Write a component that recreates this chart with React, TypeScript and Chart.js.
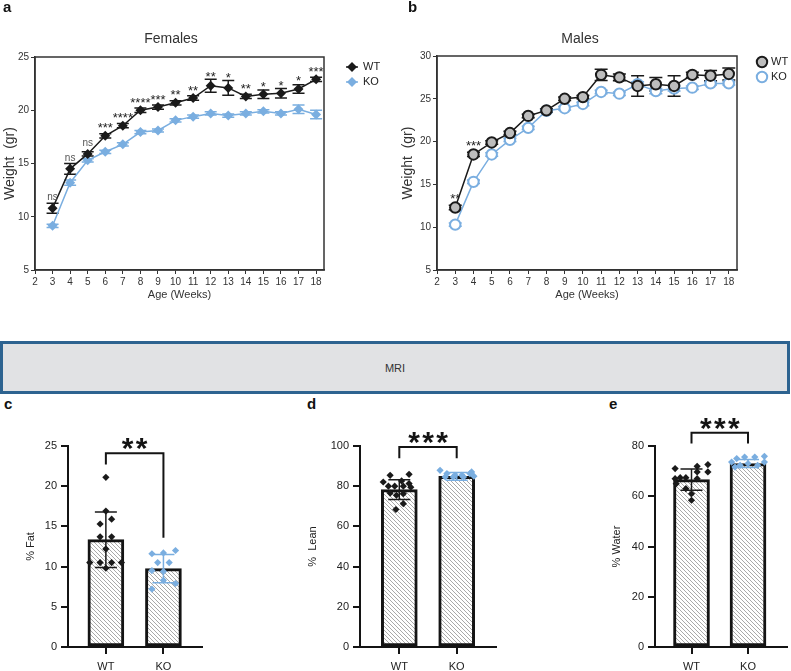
import React, { useEffect, useRef } from "react";
import { Chart, registerables } from "chart.js";

Chart.register(...registerables);

const FONT = "'Liberation Sans', Arial, Helvetica, sans-serif";
const TEXT = "#333333";
const DARK = "#141414";
const WT_COLOR = "#1a1a1a";
const KO_COLOR = "#7aaee0";
const WT_MALE_FILL = "#bdbdbd";

// ---------- Panels a / b : body weight ----------
const WEEKS = [3, 4, 5, 6, 7, 8, 9, 10, 11, 12, 13, 14, 15, 16, 17, 18];
const AGE_TICKS = [2, 3, 4, 5, 6, 7, 8, 9, 10, 11, 12, 13, 14, 15, 16, 17, 18];

const FEMALE_Y_TICKS = [5, 10, 15, 20, 25];
const FEMALE_WT = [10.8, 14.5, 15.9, 17.6, 18.55, 20.0, 20.3, 20.7, 21.15, 22.3, 22.1, 21.3, 21.5, 21.6, 22.0, 22.9];
const FEMALE_WT_SEM = [0.47, 0.5, 0.2, 0.2, 0.2, 0.2, 0.2, 0.2, 0.2, 0.6, 0.7, 0.2, 0.4, 0.45, 0.4, 0.2];
const FEMALE_KO = [9.15, 13.2, 15.3, 16.1, 16.8, 17.95, 18.1, 19.05, 19.4, 19.7, 19.5, 19.7, 19.9, 19.7, 20.1, 19.6];
const FEMALE_KO_SEM = [0.15, 0.25, 0.15, 0.15, 0.15, 0.15, 0.15, 0.15, 0.15, 0.15, 0.15, 0.15, 0.15, 0.15, 0.4, 0.4];
const FEMALE_SIG = ["ns", "ns", "ns", "***", "****", "****", "***", "**", "**", "**", "*", "**", "*", "*", "*", "***"];

const MALE_Y_TICKS = [5, 10, 15, 20, 25, 30];
const MALE_WT = [12.3, 18.5, 19.9, 21.0, 23.0, 23.65, 25.0, 25.2, 27.8, 27.5, 26.5, 26.7, 26.5, 27.8, 27.7, 27.9];
const MALE_WT_SEM = [0.25, 0.25, 0.2, 0.2, 0.2, 0.2, 0.2, 0.2, 0.65, 0.4, 1.2, 0.8, 1.2, 0.3, 0.6, 0.7];
const MALE_KO = [10.3, 15.3, 18.5, 20.2, 21.6, 23.6, 23.9, 24.4, 25.8, 25.6, 26.7, 25.9, 26.2, 26.3, 26.8, 26.8];
const MALE_KO_SEM = [0.2, 0.2, 0.2, 0.2, 0.2, 0.2, 0.2, 0.2, 0.2, 0.2, 0.3, 0.3, 0.3, 0.2, 0.2, 0.2];
const MALE_SIG = ["**", "***", "", "", "", "", "", "", "", "", "", "", "", "", "", ""];

// ---------- Panels c / d / e : MRI ----------
const GROUPS = ["WT", "KO"];

const FAT_TICKS = [0, 5, 10, 15, 20, 25];
const FAT_MEAN = [13.35, 9.75];
const FAT_SD = [3.45, 1.75];
const FAT_WT = [21.1, 16.9, 15.9, 15.3, 13.7, 13.7, 12.2, 10.5, 10.5, 10.5, 10.5, 9.8];
const FAT_WT_JITTER = [0, 0, 0.1, -0.1, -0.1, 0.1, 0, -0.28, -0.1, 0.1, 0.27, 0];
const FAT_KO = [12.0, 11.7, 11.6, 10.5, 10.5, 9.5, 9.4, 8.3, 7.9, 7.2];
const FAT_KO_JITTER = [0.21, 0, -0.2, -0.1, 0.1, -0.2, 0, 0, 0.21, -0.2];
const FAT_SIG = "**";
const FAT_BRACKET = [22.7, 24.1, 13.6]; // left leg end, top, right leg end

const LEAN_TICKS = [0, 20, 40, 60, 80, 100];
const LEAN_MEAN = [78.3, 84.9];
const LEAN_SD = [4.9, 1.95];
const LEAN_WT = [85.4, 85.9, 82.6, 82.1, 81.3, 80.0, 80.0, 80.0, 79.5, 76.6, 76.3, 75.5, 71.3, 68.4];
const LEAN_WT_JITTER = [-0.16, 0.17, 0.04, -0.28, 0.17, -0.19, -0.08, 0.07, 0.2, -0.16, 0.07, -0.05, 0.07, -0.06];
const LEAN_KO = [87.9, 86.3, 85.4, 85.4, 86.3, 87.1, 84.6, 84.6, 84.6, 85.0];
const LEAN_KO_JITTER = [-0.29, -0.17, -0.03, 0.09, 0.23, 0.26, -0.2, -0.06, 0.12, 0.3];
const LEAN_SIG = "***";
const LEAN_BRACKET = [93.9, 99.5, 93.9];

const WATER_TICKS = [0, 20, 40, 60, 80];
const WATER_MEAN = [66.6, 73.0];
const WATER_SD = [4.2, 1.6];
const WATER_WT = [72.6, 71.9, 71.0, 69.7, 69.7, 67.4, 67.4, 67.0, 67.0, 65.0, 63.0, 61.0, 58.4];
const WATER_WT_JITTER = [0.29, 0.1, -0.29, 0.1, 0.29, -0.1, -0.2, -0.29, 0.1, -0.27, -0.1, 0, 0];
const WATER_KO = [75.9, 75.6, 75.6, 75.0, 73.6, 73.6, 73.0, 72.3, 72.3, 71.6];
const WATER_KO_JITTER = [0.29, -0.06, 0.12, -0.2, 0.29, -0.29, 0, -0.14, 0.17, -0.23];
const WATER_SIG = "***";
const WATER_BRACKET = [80.95, 85.3, 80.95];

type Area = { l: number; r: number; t: number; b: number };

function textCenterBaseline(ctx: CanvasRenderingContext2D, text: string, centerY: number) {
  const m = ctx.measureText(text);
  return centerY - (m.actualBoundingBoxDescent - m.actualBoundingBoxAscent) / 2;
}

type WeightProps = {
  left: number;
  top: number;
  width: number;
  height: number;
  area: Area;
  yMin: number;
  yMax: number;
  yTicks: number[];
  wt: number[];
  wtSem: number[];
  ko: number[];
  koSem: number[];
  sig: string[];
  title: string;
  titleX: number;
  male: boolean;
  yTitlePad: number;
  legendX: number;
  legendY: number;
  labelX: number;
};

function WeightPanel(p: WeightProps) {
  const ref = useRef<HTMLCanvasElement>(null);
  useEffect(() => {
    const canvas = ref.current!;
    const markerR = p.male ? 6.2 : 5;
    const cap = p.male ? 6.5 : 6;

    const drawMarker = (ctx: CanvasRenderingContext2D, x: number, y: number, which: "WT" | "KO") => {
      ctx.save();
      if (p.male) {
        ctx.beginPath();
        ctx.arc(x, y, 5.2, 0, Math.PI * 2);
        ctx.fillStyle = which === "WT" ? WT_MALE_FILL : "#ffffff";
        ctx.fill();
        ctx.lineWidth = 2;
        ctx.strokeStyle = which === "WT" ? WT_COLOR : KO_COLOR;
        ctx.stroke();
      } else {
        ctx.beginPath();
        ctx.moveTo(x, y - 5);
        ctx.lineTo(x + 5, y);
        ctx.lineTo(x, y + 5);
        ctx.lineTo(x - 5, y);
        ctx.closePath();
        ctx.fillStyle = which === "WT" ? WT_COLOR : KO_COLOR;
        ctx.fill();
      }
      ctx.restore();
    };

    const overlay = {
      id: "weightOverlay",
      beforeDatasetsDraw(chart: any) {
        const { ctx } = chart;
        const x = chart.scales.x;
        const y = chart.scales.y;
        const draw = (vals: number[], sems: number[], color: string) => {
          ctx.save();
          ctx.strokeStyle = color;
          ctx.lineWidth = 1.5;
          WEEKS.forEach((w, i) => {
            const px = x.getPixelForValue(w);
            const t = y.getPixelForValue(vals[i] + sems[i]);
            const b = y.getPixelForValue(vals[i] - sems[i]);
            ctx.beginPath();
            ctx.moveTo(px, t);
            ctx.lineTo(px, b);
            ctx.moveTo(px - cap, t);
            ctx.lineTo(px + cap, t);
            ctx.moveTo(px - cap, b);
            ctx.lineTo(px + cap, b);
            ctx.stroke();
          });
          ctx.restore();
        };
        draw(p.ko, p.koSem, KO_COLOR);
        draw(p.wt, p.wtSem, WT_COLOR);
      },
      afterDraw(chart: any) {
        const { ctx, chartArea: ca } = chart;
        const x = chart.scales.x;
        const y = chart.scales.y;
        ctx.save();
        // frame
        ctx.strokeStyle = TEXT;
        ctx.lineWidth = 1.5;
        ctx.strokeRect(ca.left, ca.top, ca.right - ca.left, ca.bottom - ca.top);
        // title
        ctx.fillStyle = TEXT;
        ctx.font = `14px ${FONT}`;
        ctx.textAlign = "center";
        ctx.textBaseline = "middle";
        ctx.fillText(p.title, p.titleX, 39);
        // significance
        ctx.textBaseline = "alphabetic";
        p.sig.forEach((s, i) => {
          if (!s) return;
          const px = x.getPixelForValue(WEEKS[i]);
          const top = Math.min(
            y.getPixelForValue(p.wt[i] + p.wtSem[i]),
            y.getPixelForValue(p.wt[i]) - markerR
          );
          const isNs = s === "ns";
          ctx.font = isNs ? `10px ${FONT}` : `13px ${FONT}`;
          ctx.fillStyle = isNs ? "#555555" : "#222222";
          const base = textCenterBaseline(ctx, s, top - (isNs ? 6 : 5));
          ctx.fillText(s, px, base);
        });
        // legend
        const items: ["WT" | "KO", string][] = [
          ["WT", WT_COLOR],
          ["KO", KO_COLOR],
        ];
        items.forEach(([name, color], k) => {
          const ly = p.legendY + k * 15;
          if (!p.male) {
            ctx.strokeStyle = color;
            ctx.lineWidth = 1.5;
            ctx.beginPath();
            ctx.moveTo(p.legendX - 6, ly);
            ctx.lineTo(p.legendX + 6, ly);
            ctx.stroke();
          }
          drawMarker(ctx, p.legendX, ly, name);
          ctx.fillStyle = "#222222";
          ctx.font = `11px ${FONT}`;
          ctx.textAlign = "left";
          ctx.textBaseline = "middle";
          ctx.fillText(name, p.labelX, ly);
        });
        ctx.restore();
      },
    };

    const mkData = (vals: number[]) => WEEKS.map((w, i) => ({ x: w, y: vals[i] }));
    const tickFont = { family: FONT, size: 10 };

    const chart = new Chart(canvas, {
      type: "line",
      data: {
        datasets: [
          {
            label: "WT",
            data: mkData(p.wt),
            borderColor: WT_COLOR,
            borderWidth: 1.5,
            pointStyle: p.male ? "circle" : "rectRot",
            pointRadius: p.male ? 5.2 : 5,
            pointBackgroundColor: p.male ? WT_MALE_FILL : WT_COLOR,
            pointBorderColor: WT_COLOR,
            pointBorderWidth: p.male ? 2 : 0,
            tension: 0,
            fill: false,
          },
          {
            label: "KO",
            data: mkData(p.ko),
            borderColor: KO_COLOR,
            borderWidth: 1.5,
            pointStyle: p.male ? "circle" : "rectRot",
            pointRadius: p.male ? 5.2 : 5,
            pointBackgroundColor: p.male ? "#ffffff" : KO_COLOR,
            pointBorderColor: KO_COLOR,
            pointBorderWidth: p.male ? 2 : 0,
            tension: 0,
            fill: false,
          },
        ],
      },
      options: {
        animation: false,
        responsive: false,
        events: [],
        layout: { padding: { left: 0, top: p.area.t, right: p.width - p.area.r, bottom: 0 } },
        plugins: { legend: { display: false }, tooltip: { enabled: false }, title: { display: false } },
        scales: {
          x: {
            type: "linear",
            min: 2,
            max: 18.45,
            afterBuildTicks: (s: any) => {
              s.ticks = AGE_TICKS.map((v) => ({ value: v }));
            },
            afterFit: (s: any) => {
              s.height = p.height - p.area.b;
            },
            ticks: { font: tickFont, color: TEXT, padding: 2, autoSkip: false, maxRotation: 0 },
            grid: { drawOnChartArea: false, tickLength: 4, color: TEXT, lineWidth: 1 },
            border: { color: TEXT, width: 1.5 },
            title: {
              display: true,
              text: "Age (Weeks)",
              color: TEXT,
              font: { family: FONT, size: 11 },
              padding: { top: 0, bottom: 8.4 },
            },
          },
          y: {
            type: "linear",
            min: p.yMin,
            max: p.yMax,
            afterBuildTicks: (s: any) => {
              s.ticks = p.yTicks.map((v) => ({ value: v }));
            },
            afterFit: (s: any) => {
              s.width = p.area.l;
            },
            ticks: { font: tickFont, color: TEXT, padding: 2 },
            grid: { drawOnChartArea: false, tickLength: 4, color: TEXT, lineWidth: 1 },
            border: { color: TEXT, width: 1.5 },
            title: {
              display: true,
              text: "Weight  (gr)",
              color: TEXT,
              font: { family: FONT, size: 14 },
              padding: { top: p.yTitlePad, bottom: 0 },
            },
          },
        },
      },
      plugins: [overlay],
    } as any);
    return () => chart.destroy();
  }, []);
  return (
    <canvas
      ref={ref}
      width={p.width}
      height={p.height}
      style={{ position: "absolute", left: p.left, top: p.top, width: p.width, height: p.height }}
    />
  );
}

type BarProps = {
  left: number;
  top: number;
  width: number;
  height: number;
  area: Area;
  xMin: number;
  xMax: number;
  yMax: number;
  yTicks: number[];
  yTitle: string;
  yTitlePad: number;
  mean: number[];
  sd: number[];
  wt: number[];
  wtJit: number[];
  ko: number[];
  koJit: number[];
  sig: string;
  bracket: number[];
};

function makeHatch(): CanvasPattern | string {
  const s = 4;
  const c = document.createElement("canvas");
  c.width = s;
  c.height = s;
  const g = c.getContext("2d");
  if (!g) return "#dddddd";
  g.fillStyle = "#ffffff";
  g.fillRect(0, 0, s, s);
  g.strokeStyle = "#9a9a9a";
  g.lineWidth = 0.85;
  g.beginPath();
  g.moveTo(0, 0);
  g.lineTo(s, s);
  g.moveTo(-1, s - 1);
  g.lineTo(1, s + 1);
  g.moveTo(s - 1, -1);
  g.lineTo(s + 1, 1);
  g.stroke();
  return g.createPattern(c, "repeat") || "#dddddd";
}

function BarPanel(p: BarProps) {
  const ref = useRef<HTMLCanvasElement>(null);
  useEffect(() => {
    const canvas = ref.current!;
    const pattern = makeHatch();
    const overlay = {
      id: "barOverlay",
      afterDatasetDraw(chart: any, args: any) {
        if (args.index !== 0) return;
        const { ctx } = chart;
        const x = chart.scales.x;
        const y = chart.scales.y;
        ctx.save();
        ctx.lineWidth = 1.5;
        [0, 1].forEach((g) => {
          ctx.strokeStyle = g === 0 ? WT_COLOR : KO_COLOR;
          const px = x.getPixelForValue(g);
          const t = y.getPixelForValue(p.mean[g] + p.sd[g]);
          const b = y.getPixelForValue(p.mean[g] - p.sd[g]);
          const cap = 11;
          ctx.beginPath();
          ctx.moveTo(px, t);
          ctx.lineTo(px, b);
          ctx.moveTo(px - cap, t);
          ctx.lineTo(px + cap, t);
          ctx.moveTo(px - cap, b);
          ctx.lineTo(px + cap, b);
          ctx.stroke();
        });
        ctx.restore();
      },
      afterDraw(chart: any) {
        const { ctx } = chart;
        const x = chart.scales.x;
        const y = chart.scales.y;
        const x0 = x.getPixelForValue(0);
        const x1 = x.getPixelForValue(1);
        const yl = y.getPixelForValue(p.bracket[0]);
        const yt = y.getPixelForValue(p.bracket[1]);
        const yr = y.getPixelForValue(p.bracket[2]);
        ctx.save();
        ctx.strokeStyle = DARK;
        ctx.lineWidth = 2;
        ctx.beginPath();
        ctx.moveTo(x0, yl);
        ctx.lineTo(x0, yt);
        ctx.lineTo(x1, yt);
        ctx.lineTo(x1, yr);
        ctx.stroke();
        // stars
        ctx.fillStyle = DARK;
        ctx.font = `bold 30px ${FONT}`;
        (ctx as any).letterSpacing = "0px";
        const w1 = ctx.measureText("*").width;
        const gap = Math.max(0, 14 - w1);
        (ctx as any).letterSpacing = `${gap}px`;
        const n = p.sig.length;
        const total = n * w1 + (n - 1) * gap;
        const base = textCenterBaseline(ctx, "*", yt - 9);
        ctx.textAlign = "left";
        ctx.textBaseline = "alphabetic";
        ctx.fillText(p.sig, (x0 + x1) / 2 - total / 2, base);
        ctx.restore();
      },
    };

    const tickFont = { family: FONT, size: 11 };
    const chart = new Chart(canvas, {
      type: "bar",
      data: {
        datasets: [
          {
            type: "bar",
            data: [
              { x: 0, y: p.mean[0] },
              { x: 1, y: p.mean[1] },
            ],
            backgroundColor: pattern,
            borderColor: DARK,
            borderWidth: 3,
            borderSkipped: false,
            barThickness: 36,
            order: 2,
          },
          {
            type: "scatter",
            data: p.wt.map((v, i) => ({ x: p.wtJit[i], y: v })),
            pointStyle: "rectRot",
            pointRadius: 3.6,
            backgroundColor: WT_COLOR,
            borderWidth: 0,
            order: 1,
          },
          {
            type: "scatter",
            data: p.ko.map((v, i) => ({ x: 1 + p.koJit[i], y: v })),
            pointStyle: "rectRot",
            pointRadius: 3.6,
            backgroundColor: KO_COLOR,
            borderWidth: 0,
            order: 0,
          },
        ],
      },
      options: {
        animation: false,
        responsive: false,
        events: [],
        layout: { padding: { left: 0, top: p.area.t, right: p.width - p.area.r, bottom: 0 } },
        plugins: { legend: { display: false }, tooltip: { enabled: false }, title: { display: false } },
        scales: {
          x: {
            type: "linear",
            min: p.xMin,
            max: p.xMax,
            offset: false,
            afterBuildTicks: (s: any) => {
              s.ticks = [{ value: 0 }, { value: 1 }];
            },
            afterFit: (s: any) => {
              s.height = p.height - p.area.b;
            },
            ticks: {
              font: { family: FONT, size: 11 },
              color: "#222222",
              padding: 6,
              autoSkip: false,
              maxRotation: 0,
              callback: (v: any) => GROUPS[Math.round(Number(v))],
            },
            grid: { drawOnChartArea: false, offset: false, tickLength: 7, color: DARK, lineWidth: 2 },
            border: { color: DARK, width: 2 },
          },
          y: {
            type: "linear",
            min: 0,
            max: p.yMax,
            afterBuildTicks: (s: any) => {
              s.ticks = p.yTicks.map((v) => ({ value: v }));
            },
            afterFit: (s: any) => {
              s.width = p.area.l;
            },
            ticks: { font: tickFont, color: "#222222", padding: 4 },
            grid: { drawOnChartArea: false, tickLength: 7, color: DARK, lineWidth: 2 },
            border: { color: DARK, width: 2 },
            title: {
              display: true,
              text: p.yTitle,
              color: "#222222",
              font: { family: FONT, size: 11 },
              padding: { top: p.yTitlePad, bottom: 0 },
            },
          },
        },
      },
      plugins: [overlay],
    } as any);
    return () => chart.destroy();
  }, []);
  return (
    <canvas
      ref={ref}
      width={p.width}
      height={p.height}
      style={{ position: "absolute", left: p.left, top: p.top, width: p.width, height: p.height }}
    />
  );
}

const labelStyle = (left: number, top: number): React.CSSProperties => ({
  position: "absolute",
  left,
  top,
  fontFamily: FONT,
  fontWeight: "bold",
  fontSize: 15,
  lineHeight: "15px",
  color: "#111",
});

export default function App() {
  return (
    <div
      style={{
        position: "absolute",
        left: 0,
        top: 0,
        width: 791,
        height: 671,
        background: "#ffffff",
        overflow: "hidden",
        fontFamily: FONT,
      }}
    >
      <WeightPanel
        left={0}
        top={0}
        width={395}
        height={310}
        area={{ l: 35, r: 324, t: 57, b: 270 }}
        yMin={5}
        yMax={25}
        yTicks={FEMALE_Y_TICKS}
        wt={FEMALE_WT}
        wtSem={FEMALE_WT_SEM}
        ko={FEMALE_KO}
        koSem={FEMALE_KO_SEM}
        sig={FEMALE_SIG}
        title="Females"
        titleX={171}
        male={false}
        yTitlePad={1.6}
        legendX={352}
        legendY={67}
        labelX={363}
      />
      <WeightPanel
        left={395}
        top={0}
        width={396}
        height={310}
        area={{ l: 42, r: 342, t: 56, b: 270 }}
        yMin={5}
        yMax={30}
        yTicks={MALE_Y_TICKS}
        wt={MALE_WT}
        wtSem={MALE_WT_SEM}
        ko={MALE_KO}
        koSem={MALE_KO_SEM}
        sig={MALE_SIG}
        title="Males"
        titleX={185}
        male={true}
        yTitlePad={4.3}
        legendX={367}
        legendY={62}
        labelX={376}
      />
      <div style={labelStyle(3, -1)}>a</div>
      <div style={labelStyle(408, -1)}>b</div>

      <div
        style={{
          position: "absolute",
          left: 0,
          top: 341,
          width: 790,
          height: 53,
          boxSizing: "border-box",
          border: "3px solid #2d6390",
          background: "#e1e2e4",
          display: "flex",
          alignItems: "center",
          justifyContent: "center",
          fontFamily: FONT,
          fontSize: 11,
          color: "#333",
        }}
      >
        MRI
      </div>

      <div style={labelStyle(4, 396)}>c</div>
      <div style={labelStyle(307, 396)}>d</div>
      <div style={labelStyle(609, 396)}>e</div>

      <BarPanel
        left={0}
        top={400}
        width={270}
        height={271}
        area={{ l: 68, r: 202, t: 46, b: 247 }}
        xMin={-0.658}
        xMax={1.67}
        yMax={25}
        yTicks={FAT_TICKS}
        yTitle="% Fat"
        yTitlePad={24.4}
        mean={FAT_MEAN}
        sd={FAT_SD}
        wt={FAT_WT}
        wtJit={FAT_WT_JITTER}
        ko={FAT_KO}
        koJit={FAT_KO_JITTER}
        sig={FAT_SIG}
        bracket={FAT_BRACKET}
      />
      <BarPanel
        left={270}
        top={400}
        width={260}
        height={271}
        area={{ l: 90, r: 226, t: 46, b: 247 }}
        xMin={-0.685}
        xMax={1.685}
        yMax={100}
        yTicks={LEAN_TICKS}
        yTitle="%  Lean"
        yTitlePad={36.4}
        mean={LEAN_MEAN}
        sd={LEAN_SD}
        wt={LEAN_WT}
        wtJit={LEAN_WT_JITTER}
        ko={LEAN_KO}
        koJit={LEAN_KO_JITTER}
        sig={LEAN_SIG}
        bracket={LEAN_BRACKET}
      />
      <BarPanel
        left={530}
        top={400}
        width={261}
        height={271}
        area={{ l: 125, r: 260, t: 46, b: 247 }}
        xMin={-0.646}
        xMax={1.69}
        yMax={80}
        yTicks={WATER_TICKS}
        yTitle="% Water"
        yTitlePad={80.4}
        mean={WATER_MEAN}
        sd={WATER_SD}
        wt={WATER_WT}
        wtJit={WATER_WT_JITTER}
        ko={WATER_KO}
        koJit={WATER_KO_JITTER}
        sig={WATER_SIG}
        bracket={WATER_BRACKET}
      />
    </div>
  );
}
